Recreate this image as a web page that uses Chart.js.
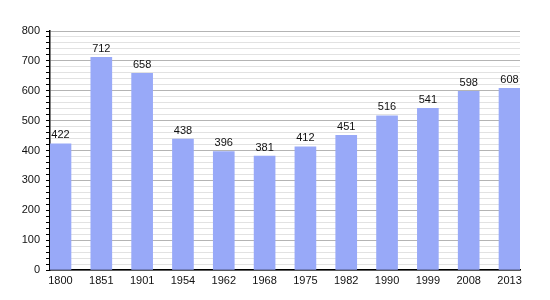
<!DOCTYPE html>
<html>
<head>
<meta charset="utf-8">
<script src="https://cdn.jsdelivr.net/npm/chart.js@4/dist/chart.umd.min.js"></script>
<style>
  html, body { margin: 0; padding: 0; background: #fff; }
  #wrap { width: 550px; height: 300px; }
</style>
</head>
<body>
<div id="wrap"><canvas id="myChart"></canvas></div>
<script>
// years and population counts
var years = ['1800', '1851', '1901', '1954', '1962', '1968', '1975', '1982', '1990', '1999', '2008', '2013'];
var population = [422, 712, 658, 438, 396, 381, 412, 451, 516, 541, 598, 608];
var yTicks = [0, 100, 200, 300, 400, 500, 600, 700, 800];

var points = years.map(function (y, i) { return { x: i, y: population[i] }; });

// numbers on top of each bar
var valueLabels = {
  id: 'valueLabels',
  afterDatasetsDraw: function (chart) {
    var ctx = chart.ctx;
    var meta = chart.getDatasetMeta(0);
    ctx.save();
    ctx.font = '11px "Liberation Sans", Arial, sans-serif';
    ctx.fillStyle = '#111';
    ctx.textAlign = 'center';
    ctx.textBaseline = 'bottom';
    meta.data.forEach(function (bar, i) {
      ctx.fillText(population[i], bar.x, bar.y - 3);
    });
    ctx.restore();
  }
};

var ctx = document.getElementById('myChart').getContext('2d');
var myChart = new Chart(ctx, {
  type: 'bar',
  data: {
    datasets: [{
      data: points,
      backgroundColor: '#98a9f8',
      borderWidth: 0,
      barThickness: 21
    }]
  },
  options: {
    responsive: true,
    maintainAspectRatio: false,
    animation: false,
    events: [],
    layout: { padding: { top: 31, right: 30, left: 0, bottom: 0 } },
    plugins: { legend: { display: false }, tooltip: { enabled: false } },
    scales: {
      x: {
        type: 'linear',
        offset: false,
        min: -0.257,
        max: 11.257,
        afterBuildTicks: function (scale) {
          scale.ticks = years.map(function (y, i) { return { value: i }; });
        },
        afterFit: function (scale) { scale.height = 30; },
        grid: { display: false, drawTicks: false },
        border: { color: '#000', width: 1.5 },
        ticks: {
          autoSkip: false,
          maxRotation: 0,
          padding: 4,
          color: '#111',
          font: { size: 11, family: '"Liberation Sans", Arial, sans-serif' },
          callback: function (v) { return years[v]; }
        }
      },
      y: {
        min: 0,
        max: 800,
        afterFit: function (scale) { scale.width = 50; },
        border: { color: '#000', width: 1.5 },
        grid: {
          color: function (c) {
            return yTicks.indexOf(c.tick.value) >= 0 ? '#b4b4b4' : '#e2e2e2';
          },
          tickColor: '#000',
          tickLength: 4
        },
        ticks: {
          stepSize: 20,
          autoSkip: false,
          padding: 6,
          color: '#111',
          font: { size: 11, family: '"Liberation Sans", Arial, sans-serif' },
          callback: function (v) { return yTicks.indexOf(v) >= 0 ? v : ''; }
        }
      }
    }
  },
  plugins: [valueLabels]
});
</script>
</body>
</html>
